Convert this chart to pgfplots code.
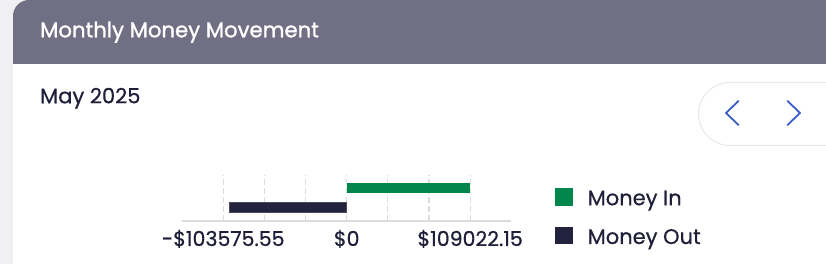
\documentclass[border=0pt]{standalone}
\usepackage{fontspec}
\setmainfont{Poppins}[FakeBold=0.6]
\newfontfamily\titlefont{Poppins}[FakeBold=1.3]
\usepackage{pgfplots}
\pgfplotsset{compat=1.18}
\definecolor{bgstrip}{HTML}{F0F0F2}
\definecolor{header}{HTML}{716F83}
\definecolor{ink}{HTML}{1F1F3A}
\definecolor{moneyin}{HTML}{00864A}
\definecolor{moneyout}{HTML}{232340}
\definecolor{moneyoutedge}{HTML}{4A4A60}
\definecolor{arrowc}{HTML}{3B5CC5}
\definecolor{pillc}{HTML}{E8E8EC}
\definecolor{gridc}{HTML}{DCDCDC}
\begin{document}
\begin{tikzpicture}[x=1pt,y=1pt]
\useasboundingbox (0,0) rectangle (826,264);
\fill[bgstrip] (0,0) rectangle (826,264);
\begin{scope}
\clip (0,0) rectangle (826,264);
\fill[white, rounded corners=16pt] (13,-30) rectangle (880,264);
\begin{scope}
\clip[rounded corners=16pt] (13,-30) rectangle (880,264);
\fill[header] (13,200) rectangle (880,264);
\end{scope}
\draw[pillc, line width=1pt, fill=white, rounded corners=31.5pt] (698.5,118.5) rectangle (900,181.5);
\end{scope}
\draw[arrowc, line width=1.8pt, line cap=round, line join=round] (738.5,163) -- (726,151) -- (738.5,139);
\draw[arrowc, line width=1.8pt, line cap=round, line join=round] (787.5,163) -- (800,151) -- (787.5,139);
\node[anchor=base west, text=white, inner sep=0pt, font=\titlefont\fontsize{21.2}{24}\selectfont] at (40,226.7) {Monthly Money Movement};
\node[anchor=base west, text=ink, inner sep=0pt, font=\fontsize{21}{24}\selectfont] at (40,160.7) {May 2025};
\begin{axis}[
  at={(181.7pt,43.3pt)}, anchor=south west,
  scale only axis, width=329.3pt, height=45.7pt,
  xmin=-145700, xmax=145100, ymin=-0.6875, ymax=1.693,
  axis x line=bottom, axis y line=none,
  x axis line style={-, draw=gridc, line width=2pt},
  xtick={-109022.15,-72681.43,-36340.72,0,36340.72,72681.43,109022.15},
  xticklabels={-\$103575.55,,,\$0,,,\$109022.15},
  major tick length=0pt,
  xmajorgrids, grid style={gridc, line width=1.2pt, dash pattern=on 6pt off 3pt},
  xticklabel style={font=\fontsize{20.5}{24}\selectfont, text=ink, anchor=base, yshift=-25.3pt},
  ytick=\empty,
  clip=false,
  legend cell align=left,
  legend style={at={(1.1336,0.715)}, anchor=north west, draw=none, fill=none,
    inner sep=0pt, outer sep=0pt, font=\fontsize{21}{24}\selectfont, text=ink,
    row sep=20pt, nodes={inner sep=0pt},
    /tikz/every odd column/.append style={column sep=15pt}},
  legend image code/.code={\fill[#1,draw=none] (0pt,-7pt) rectangle (17.7pt,10.6pt);},
]
\addplot[xbar, bar shift=0pt, bar width=10pt, fill=moneyin, draw=none] coordinates {(109022.15,1)};
\addplot[xbar, bar shift=0pt, bar width=10pt, fill=moneyout, draw=moneyoutedge, line width=0.8pt] coordinates {(-103575.55,0)};
\legend{Money In, Money Out}
\end{axis}
\end{tikzpicture}
\end{document}
